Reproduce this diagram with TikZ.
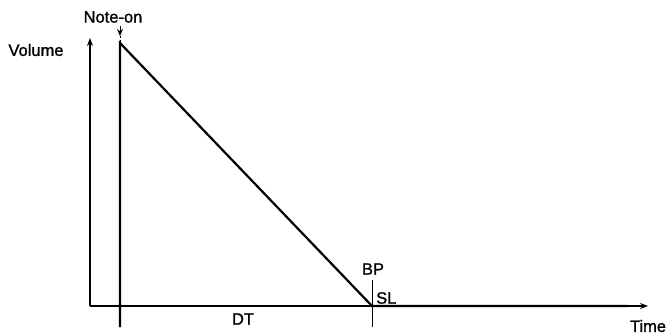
\documentclass[tikz,border=0pt]{standalone}
\usepackage{fontspec}
\setmainfont{Liberation Sans}
\newfontfamily\lblfont[FakeBold=1.2]{Liberation Sans}
\usetikzlibrary{arrows.meta}
\begin{document}
\begin{tikzpicture}[x=1pt,y=-1pt,
  lbl/.style={font=\lblfont\fontsize{16.5}{18}\selectfont,inner sep=0pt},
  axis/.style={line width=1.1pt,-{Stealth[length=8pt,width=6pt]}},
  env/.style={line width=2.2pt},
  tick/.style={line width=1pt}]
\useasboundingbox (0,0) rectangle (668,335);
% points
\coordinate (O) at (90,306);
\coordinate (Ytop) at (90,38);
\coordinate (Xend) at (648,306);
\coordinate (Nbot) at (120,327);
\coordinate (Ntop) at (120,43);
\coordinate (BPpt) at (372,306);
\coordinate (BPtop) at (372,280);
\coordinate (BPbot) at (372,327);
\coordinate (Thick) at (628,306);
\coordinate (Mk1) at (120,26);
\coordinate (Mk2) at (120,36);
% axes
\draw[axis] (O) -- (Ytop);
\draw[axis] (O) -- (Xend);
% envelope
\draw[env] (Nbot) -- (Ntop) -- (BPpt) -- (Thick);
\draw[tick] (BPtop) -- (BPbot);
% note-on marker
\draw[line width=1pt,-{Stealth[length=7pt,width=6pt]}] (Mk1) -- (Mk2);
\draw[line width=1pt,dashed,dash pattern=on 2pt off 2pt] (Mk2) -- (Ntop);
% labels
\node[lbl] (noteon) at (113,17) {Note-on};
\node[lbl] (volume) at (36,50) {Volume};
\node[lbl] (dt) at (243,319) {DT};
\node[lbl] (bp) at (373,269) {BP};
\node[lbl,anchor=west] (sl) at (376,298) {SL};
\node[lbl] (time) at (648,326) {Time};
\end{tikzpicture}
\end{document}
